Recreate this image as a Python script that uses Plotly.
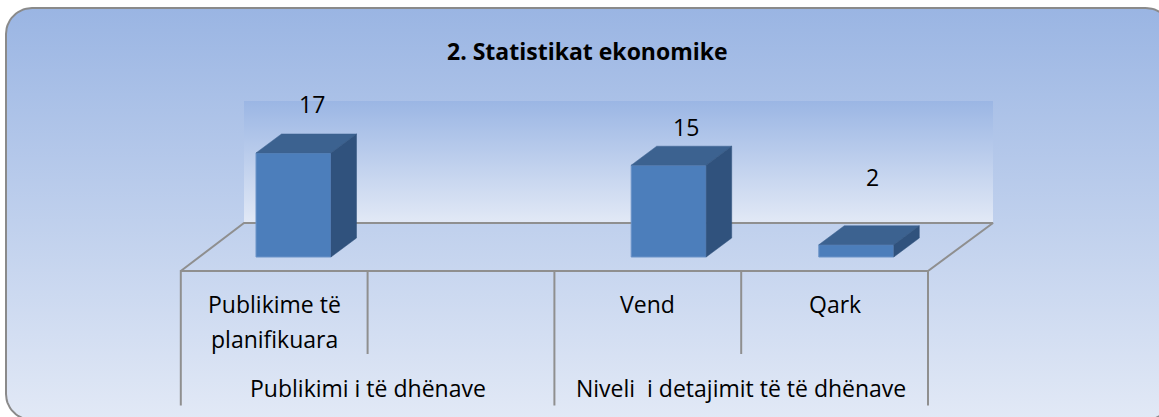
import math
import plotly.graph_objects as go

# ---- data ----
title_text = "2. Statistikat ekonomike"
categories = ["Publikime të<br>planifikuara", "", "Vend", "Qark"]
values = [17, None, 15, 2]
groups = ["Publikimi i të dhënave", "Niveli  i detajimit të të dhënave"]
group_spans = [(0, 2), (2, 4)]

# ---- styles / geometry (pixels of the 1159x417 page) ----
W, H = 1159, 417
X0_PX, CAT_PX = 180.8, 186.8      # floor front-left, width of a category
Y0_PX, VAL_PX = 257.0, 6.12       # baseline of the bars, pixels per unit
FONT = "Open Sans"
LINE = "#8F8F8F"
FRONT, TOP, SIDE, EDGE = "#4C7EBB", "#3C6290", "#30527D", "#6B93C8"
BG_STOPS = [[0, "#E2E9F6"], [1, "#9AB5E3"]]
WALL_STOPS = [[0, "#E2E9F6"], [1, "#9BB6E4"]]


def dx(px):
    return (px - X0_PX) / CAT_PX


def dy(py):
    return (Y0_PX - py) / VAL_PX


def rounded(x0, y0, x1, y1, r, n=14):
    pts = []
    for cx, cy, a0 in [(x1 - r, y0 + r, -90), (x1 - r, y1 - r, 0), (x0 + r, y1 - r, 90), (x0 + r, y0 + r, 180)]:
        for i in range(n + 1):
            a = math.radians(a0 + 90 * i / n)
            pts.append((cx + r * math.cos(a), cy + r * math.sin(a)))
    pts.append(pts[0])
    return [dx(p[0]) for p in pts], [dy(p[1]) for p in pts]


fig = go.Figure()

# panel background
bx, by = rounded(6, 8, 1172, 420, 26)
fig.add_trace(go.Scatter(x=bx, y=by, mode="lines", fill="toself",
                         line=dict(color="#8A8A8A", width=2),
                         fillgradient=dict(type="vertical", colorscale=BG_STOPS),
                         hoverinfo="skip", showlegend=False))

# back wall
FLOOR_L, FLOOR_R, FLOOR_FRONT, FLOOR_BACK = 180.8, 928, 271, 223
WALL_L, WALL_R, WALL_T = 244, 993, 101
wx = [dx(WALL_L), dx(WALL_R), dx(WALL_R), dx(WALL_L), dx(WALL_L)]
wy = [dy(WALL_T), dy(WALL_T), dy(FLOOR_BACK), dy(FLOOR_BACK), dy(WALL_T)]
fig.add_trace(go.Scatter(x=wx, y=wy, mode="lines", fill="toself", line=dict(width=0),
                         fillgradient=dict(type="vertical", colorscale=WALL_STOPS),
                         hoverinfo="skip", showlegend=False))

# floor outline
fx = [dx(FLOOR_L), dx(WALL_L), dx(WALL_R), dx(FLOOR_R), dx(FLOOR_L)]
fy = [dy(FLOOR_FRONT), dy(FLOOR_BACK), dy(FLOOR_BACK), dy(FLOOR_FRONT), dy(FLOOR_FRONT)]
fig.add_trace(go.Scatter(x=fx, y=fy, mode="lines", line=dict(color=LINE, width=2),
                         hoverinfo="skip", showlegend=False))

# category separators
for i in range(len(categories) + 1):
    outer = i % 2 == 0
    fig.add_trace(go.Scatter(x=[i, i], y=[dy(FLOOR_FRONT - 1), dy(405.5 if outer else 354)], mode="lines",
                             line=dict(color=LINE, width=2), hoverinfo="skip", showlegend=False))

# bars
BAR_OFF = 19.3 / CAT_PX
BAR_GAP = 187.6 / CAT_PX
BAR_W = 75 / CAT_PX
DEPTH_X, DEPTH_Y = 25.5 / CAT_PX, 19 / VAL_PX
centers = [0.5 + BAR_OFF + i * BAR_GAP for i in range(len(categories))]
fig.add_trace(go.Bar(x=centers, y=values, width=BAR_W, base=0, xaxis="x2", yaxis="y2",
                     marker=dict(color=FRONT, line=dict(color=EDGE, width=1)),
                     hoverinfo="skip", showlegend=False))
for c, v in zip(centers, values):
    if v is None:
        continue
    l, r = c - BAR_W / 2, c + BAR_W / 2
    fig.add_trace(go.Scatter(x=[l, r, r + DEPTH_X, l + DEPTH_X, l],
                             y=[v, v, v + DEPTH_Y, v + DEPTH_Y, v],
                             mode="lines", fill="toself", fillcolor=TOP, xaxis="x2", yaxis="y2",
                             line=dict(color=TOP, width=0.5), hoverinfo="skip", showlegend=False))
    fig.add_trace(go.Scatter(x=[r, r + DEPTH_X, r + DEPTH_X, r, r],
                             y=[0, DEPTH_Y, v + DEPTH_Y, v, 0],
                             mode="lines", fill="toself", fillcolor=SIDE, xaxis="x2", yaxis="y2",
                             line=dict(color=SIDE, width=0.5), hoverinfo="skip", showlegend=False))

ann = []
# data labels
label_shift = [(18.5, 49), None, (17, 38), (16, 68)]
for c, v, s in zip(centers, values, label_shift):
    if v is None:
        continue
    ann.append(dict(x=c, y=v, text=str(v), xshift=s[0], yshift=s[1], showarrow=False,
                    xanchor="center", yanchor="middle", font=dict(family=FONT, size=23, color="#000000")))
# category labels, one annotation per line
LINE_Y = [304, 339]
for i, cat in enumerate(categories):
    if not cat:
        continue
    for part, py in zip(cat.split("<br>"), LINE_Y):
        ann.append(dict(x=i + 0.5, y=dy(py), text=part, showarrow=False,
                        xanchor="center", yanchor="middle", align="center",
                        font=dict(family=FONT, size=23, color="#000000")))
# group labels
for g, (a, b) in zip(groups, group_spans):
    ann.append(dict(x=(a + b) / 2, y=dy(388), text=g, showarrow=False, xanchor="center", yanchor="middle",
                    font=dict(family=FONT, size=23, color="#000000")))
# title
ann.append(dict(x=dx(587), y=dy(51), text=f"<b>{title_text}</b>", showarrow=False, xanchor="center",
                yanchor="middle", font=dict(family=FONT, size=23, color="#000000")))

xr = [dx(0), dx(W)]
yr = [dy(H), dy(0)]
fig.update_layout(
    width=W, height=H, margin=dict(l=0, r=0, t=0, b=0),
    paper_bgcolor="#FFFFFF", plot_bgcolor="rgba(0,0,0,0)",
    xaxis=dict(range=xr, visible=False, fixedrange=True),
    yaxis=dict(range=yr, visible=False, fixedrange=True),
    xaxis2=dict(range=xr, visible=False, overlaying="x", fixedrange=True),
    yaxis2=dict(range=yr, visible=False, overlaying="y", fixedrange=True),
    annotations=ann,
    barmode="overlay",
)
fig.write_html("out.html", config=dict(displayModeBar=False),
               post_script="document.body.style.margin='0';document.body.style.overflow='hidden';")
